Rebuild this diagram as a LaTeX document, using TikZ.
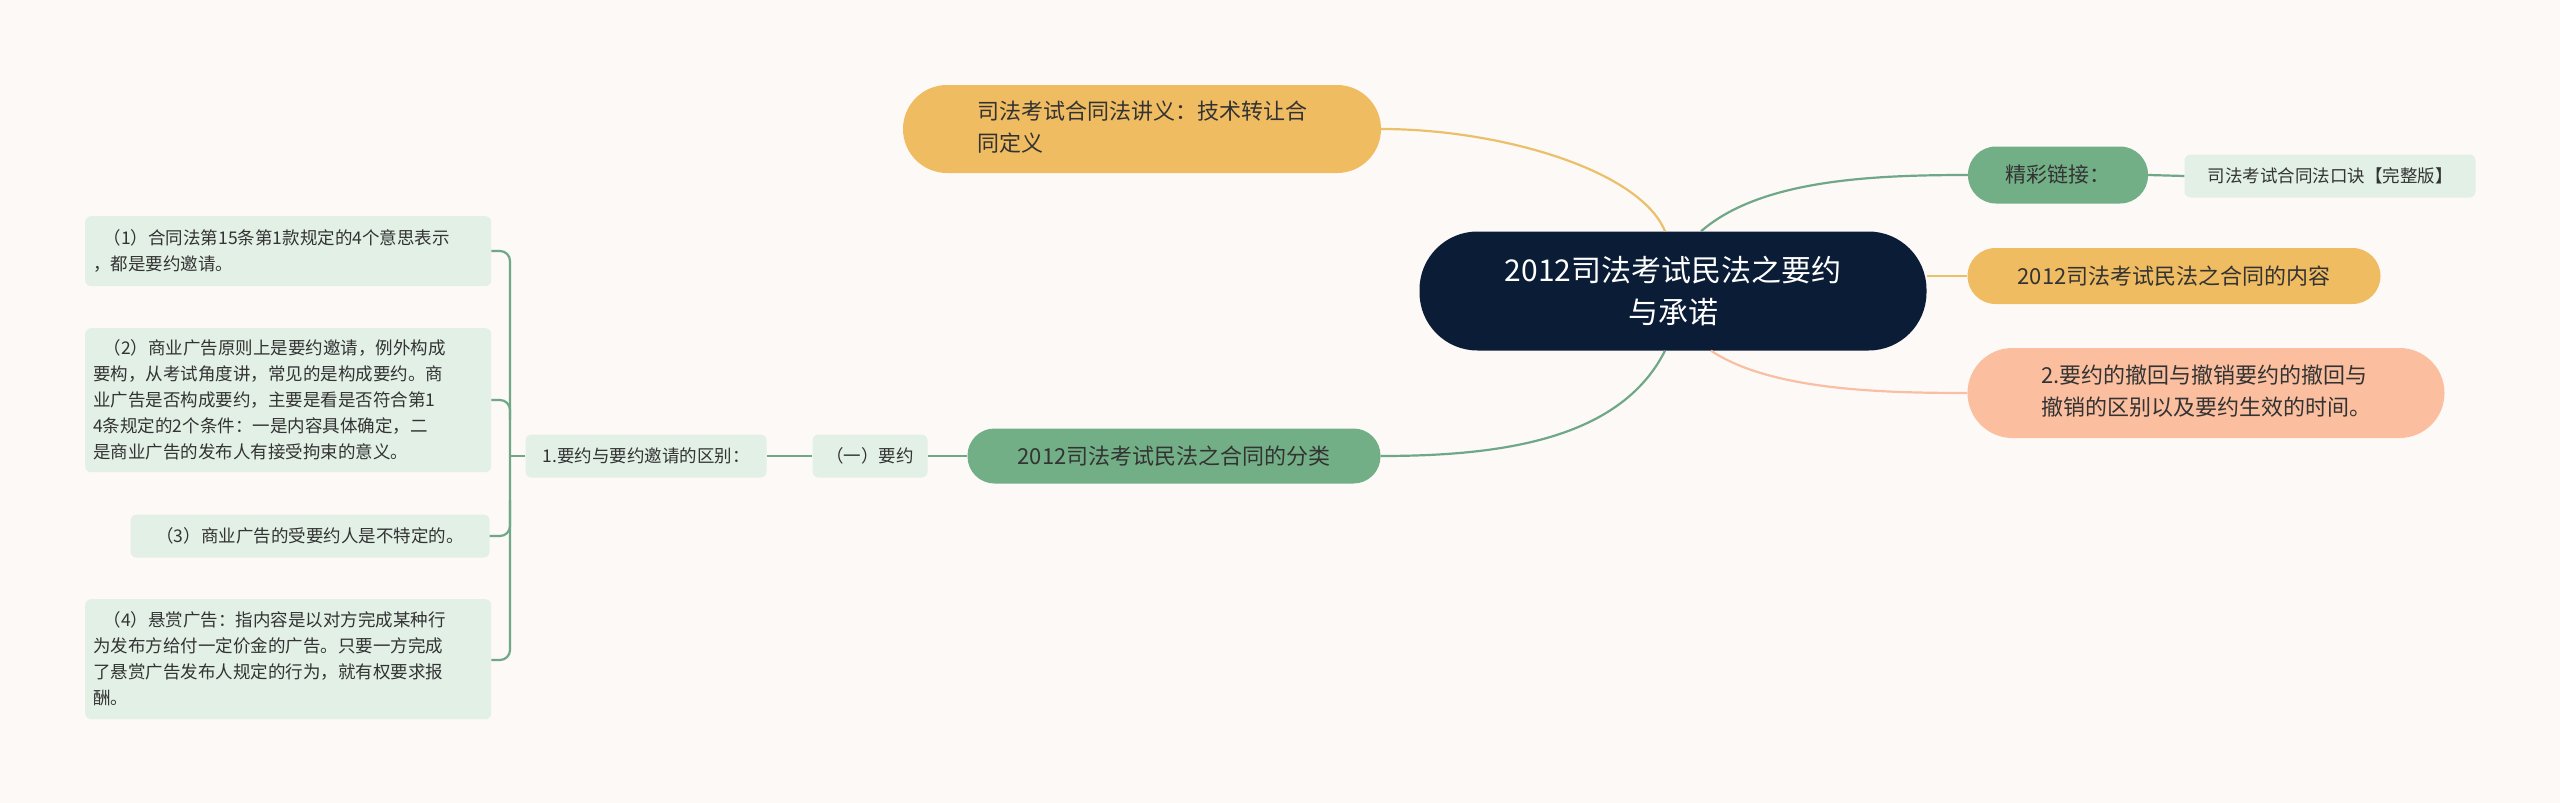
\documentclass[tikz,border=0pt]{standalone}
\usepackage{fontspec}
\setmainfont{Noto Sans CJK SC}
\begin{document}
\begin{tikzpicture}[x=1pt,y=-1pt,
  leaf/.style={fill=lgreen,rounded corners=6pt,inner sep=0pt,align=left,font=\fontsize{17.5}{26}\selectfont,text=dtext},
  pill/.style={rounded corners=26pt,inner sep=0pt,align=center,text=dtext},
  gl/.style={draw=gline,line width=2.2pt},
  ol/.style={draw=oline,line width=2.2pt},
  sl/.style={draw=sline,line width=2.2pt}]
\definecolor{bg}{HTML}{FDF9F7}
\definecolor{lgreen}{HTML}{E2F0E6}
\definecolor{green}{HTML}{72AF86}
\definecolor{gline}{HTML}{6FA886}
\definecolor{orange}{HTML}{F0BC62}
\definecolor{oline}{HTML}{EBC06A}
\definecolor{salmon}{HTML}{FBBFA0}
\definecolor{sline}{HTML}{F8BFA2}
\definecolor{navy}{HTML}{0B1D36}
\definecolor{dtext}{HTML}{333333}
\fill[bg] (0,0) rectangle (2560,803);
\useasboundingbox (0,0) rectangle (2560,803);
% nodes
\node[fill=navy,rounded corners=58pt,minimum width=507pt,minimum height=119pt,inner sep=0pt,align=center,text=white,font=\fontsize{30}{42}\selectfont] (root) at (1673,291) {2012司法考试民法之要约\\与承诺};
\node[pill,fill=orange,minimum width=478pt,minimum height=88pt,rounded corners=44pt,font=\fontsize{22}{32}\selectfont] (top) at (1142,129) {\begin{tabular}{@{}l@{}}司法考试合同法讲义：技术转让合\\同定义\end{tabular}};
\node[pill,fill=green,minimum width=180pt,minimum height=57pt,rounded corners=28pt,font=\fontsize{21}{30}\selectfont] (link) at (2058,175) {精彩链接：};
\node[leaf,minimum width=291pt,minimum height=43pt,align=center] (kj) at (2330,176) {司法考试合同法口诀【完整版】};
\node[pill,fill=orange,minimum width=413pt,minimum height=56pt,rounded corners=28pt,font=\fontsize{22}{32}\selectfont] (cont) at (2174,276) {2012司法考试民法之合同的内容};
\node[pill,fill=salmon,minimum width=477pt,minimum height=90pt,rounded corners=45pt,font=\fontsize{22}{32}\selectfont] (rev) at (2206,393) {\begin{tabular}{@{}l@{}}2.要约的撤回与撤销要约的撤回与\\撤销的区别以及要约生效的时间。\end{tabular}};
\node[pill,fill=green,minimum width=413pt,minimum height=55pt,rounded corners=27pt,font=\fontsize{22}{32}\selectfont] (cls) at (1174,456) {2012司法考试民法之合同的分类};
\node[leaf,minimum width=115pt,minimum height=43pt,align=center] (yy) at (870,456) {（一）要约};
\node[leaf,minimum width=241pt,minimum height=43pt,align=center] (qb) at (646,456) {1.要约与要约邀请的区别：};
\node[leaf,minimum width=405pt,minimum height=70pt,anchor=north west,text width=390pt,inner xsep=8pt,inner ysep=9pt] (l1) at (85,216) {\hspace*{0.6em}（1）合同法第15条第1款规定的4个意思表示\\，都是要约邀请。};
\node[leaf,minimum width=405pt,minimum height=144pt,anchor=north west,text width=390pt,inner xsep=8pt,inner ysep=10pt] (l2) at (85,328) {\hspace*{0.6em}（2）商业广告原则上是要约邀请，例外构成\\要构，从考试角度讲，常见的是构成要约。商\\业广告是否构成要约，主要是看是否符合第1\\4条规定的2个条件：一是内容具体确定，二\\是商业广告的发布人有接受拘束的意义。};
\node[leaf,minimum width=359pt,minimum height=43pt,align=center] (l3) at (310,536) {（3）商业广告的受要约人是不特定的。};
\node[leaf,minimum width=405pt,minimum height=120pt,anchor=north west,text width=390pt,inner xsep=8pt,inner ysep=10pt] (l4) at (85,599) {\hspace*{0.6em}（4）悬赏广告：指内容是以对方完成某种行\\为发布方给付一定价金的广告。只要一方完成\\了悬赏广告发布人规定的行为，就有权要求报\\酬。};
% connectors
\draw[ol] ([xshift=-8pt]root.north) .. controls (1640,170) and (1500,129) .. (top.east);
\draw[gl] ([xshift=28pt]root.north) .. controls (1760,180) and (1870,175) .. (link.west);
\draw[gl] (link.east) -- (kj.west);
\draw[ol] (root.east |- cont) -- (cont.west);
\draw[sl] ([xshift=38pt]root.south) .. controls (1770,390) and (1880,393) .. (rev.west);
\draw[gl] ([xshift=-8pt]root.south) .. controls (1620,440) and (1500,456) .. (cls.east);
\draw[gl] (cls.west) -- (yy.east);
\draw[gl] (yy.west) -- (qb.east);
\coordinate (bx) at (510,456);
\draw[gl] (qb.west) -- (bx);
\draw[gl,rounded corners=10pt] (l1.east |- 0,251) -- (510,251) -- (510,660) -- (l4.east |- 0,660);
\draw[gl,rounded corners=10pt] (l2.east |- 0,400) -- (510,400) -- (510,420);
\draw[gl,rounded corners=10pt] (l3.east) -- (510,536) -- (510,500);
\end{tikzpicture}
\end{document}
